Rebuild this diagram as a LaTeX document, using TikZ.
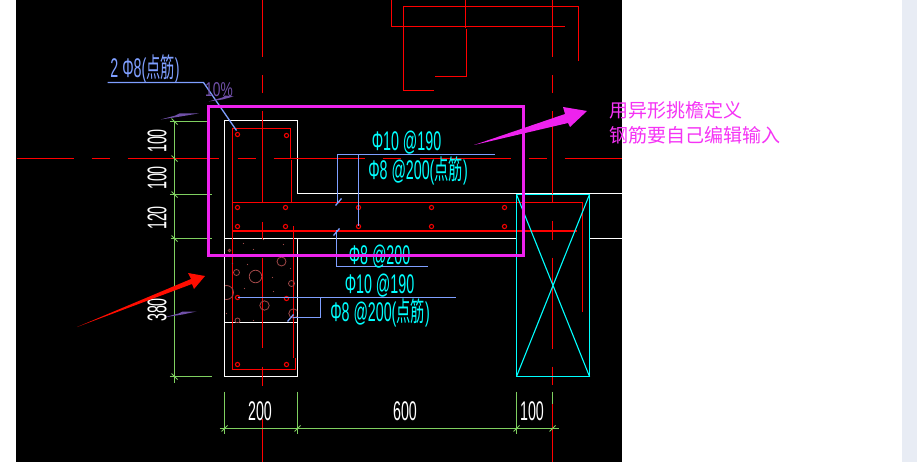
\documentclass[tikz,border=0pt]{standalone}
\usepackage{fontspec}
\setmainfont{Liberation Sans}
\newfontfamily\cjk{Noto Sans CJK SC}
\definecolor{mag}{HTML}{EE22EE}
\definecolor{notec}{HTML}{F533F5}
\definecolor{rd}{HTML}{FF0000}
\definecolor{grn}{HTML}{7FD060}
\definecolor{blu}{HTML}{7F9FFF}
\definecolor{cy}{HTML}{00FFFF}
\definecolor{pur}{HTML}{7050A8}
\definecolor{brn}{HTML}{A04848}
\definecolor{strip}{HTML}{E8ECF4}
\newcommand{\cadtxt}[1]{\scalebox{0.57}[1.08]{\fontsize{25}{25}\selectfont #1}}
\tikzset{
  x=1pt,y=-1pt,
  rl/.style={rd,line width=1.2pt},
  rf/.style={rd,line width=1pt},
  wl/.style={white,line width=1pt},
  gl/.style={grn,line width=1.3pt},
  bl/.style={blu,line width=1.3pt},
  cl/.style={cy,line width=1.4pt},
  rbar/.style={rd,line width=1pt},
  hatch/.style={brn,line width=.8pt},
  wtxt/.style={white,inner sep=0pt},
  ctxt/.style={cy,inner sep=0pt},
  btxt/.style={blu,inner sep=0pt},
  notetxt/.style={notec,inner sep=0pt,anchor=west,font=\cjk\fontsize{19}{19}\selectfont},
}
\begin{document}
\begin{tikzpicture}
\useasboundingbox (0,0) rectangle (917,462);
\fill[white] (0,0) rectangle (917,462);
\fill[black] (16,0) rectangle (622,462);
\fill[strip] (902,0) rectangle (917,462);
% concrete outlines
\draw[wl] (224,238) -- (224,121) -- (297,121) -- (297,194) -- (622,194);
\draw[wl] (224,238) -- (516,238);
\draw[wl] (589,238) -- (622,238);
\draw[wl] (224,238) -- (224,376) -- (297,376) -- (297,238);
\draw[wl] (224,322) -- (297,322);
% rebar outlines
\draw[rf] (466,29) -- (466,77) -- (435,77);
\draw[rf] (290,158) -- (290,129) -- (232,129) -- (232,369) -- (295,369) -- (295,358);
\draw[rf] (293,358) -- (293,226);
\draw[rf] (291,160) -- (291,203);
\draw[rf] (232,203) -- (582,203) -- (582,312);
\draw[rf] (232,231) -- (577,231);
\begin{scope}[shift={(.5,.5)}]
% axes
\foreach \a/\b in {16/73,91/109,127/218,237/255,273/364,382/400,419/510,528/546,564/621.5}
  \draw[rl] (\a,158) -- (\b,158);
\foreach \a/\b in {0/57,75/93,111/203,222/238,257/347,366/385,418/462}
  \draw[rl] (262,\a) -- (262,\b);
\foreach \a/\b in {0/57,75/93,111/202,221/239,257/348,366/384,403/462}
  \draw[rl] (552,\a) -- (552,\b);
% top right
\draw[rl] (391,0) -- (391,26) -- (564,26);
\draw[rl] (433,90) -- (403,90) -- (403,6) -- (578,6) -- (578,61);
\draw[rl] (465,0) -- (465,28);
% hatch
\begin{scope}
\clip (224.5,238.5) rectangle (296.5,321.5);
\foreach \x/\y/\r in {281/261/4.5,236/272/3,255/276/6.3,291/283/3,226/292/7,264/305/4.7,293/313/4.7,237/320/2.5,229/250/1.2}
  \draw[hatch] (\x,\y) circle[radius=\r];
\foreach \x/\y in {243/243,253/249,283/244,247/264,232/263,272/277,290/268,244/288,273/291,226/313,253/320,263/239}
  \fill[brn] (\x,\y) circle[radius=.6];
\end{scope}
\foreach \x/\y in {237/134,286/135,237/207,285/207,237/226,285/226,358/207,431/207,504/207,358/226,431/226,504/226,237/297,286/298,237/364,286/364}
  \draw[rbar] (\x,\y) circle[radius=2.1];
% cyan box
\draw[cl] (516,194) rectangle (589,376);
\draw[cl,line width=1.1pt] (516,194) -- (589,376) (589,194) -- (516,376);
% green dims
\draw[gl] (174,121) -- (174,382);
\draw[gl] (169,121) -- (208,121);
\draw[gl] (169,194) -- (211,194);
\draw[gl] (170,238) -- (211,238);
\draw[gl] (169,376) -- (211,376);
\draw[gl] (219,428) -- (558,428);
\foreach \x in {224,297,516} \draw[gl] (\x,391) -- (\x,433);
\draw[gl] (552,391) -- (552,403);
\foreach \y in {121,158,194,238,376} \draw[gl,line width=.8pt] (171,\y-3) -- (177,\y+3);
\foreach \x in {224,297,516,552} \draw[gl,line width=.8pt] (\x-3,431) -- (\x+3,425);
% leaders
\draw[bl] (107,82) -- (203,82) -- (236,130);
\draw[bl] (494,154) -- (337,154) -- (337,203);
\draw[bl] (335,205) -- (341,198);
\draw[bl] (358,154) -- (358,226);
\draw[bl] (333,235) -- (339,228);
\draw[bl] (336,230) -- (336,266) -- (427,266);
\draw[bl] (237,297) -- (455,297);
\draw[bl] (320,297) -- (320,317) -- (292,317);
\draw[bl] (287,321) -- (293,314);
% purple marks
\fill[pur] (208,101) -- (222,97) -- (225,95) -- (233,96) -- (222,99) -- cycle;
\fill[pur] (160,119) -- (175,115) -- (179,113) -- (198,113) -- (180,116) -- cycle;
\fill[pur] (163,317) -- (178,313) -- (182,311) -- (196,311) -- (182,314) -- cycle;
\end{scope}
% texts
\node[pur,inner sep=0pt] (pct) at (219,90) {\scalebox{.55}[.8]{\fontsize{25}{25}\selectfont 10\%}};
\node[btxt] (t2) at (145,68.5) {\cadtxt{2 Φ8(\cjk 点筋\rmfamily)}};
\node[ctxt] (t3) at (406.5,142.5) {\cadtxt{Φ10 @190}};
\node[ctxt] (t4) at (418,171) {\cadtxt{Φ8 @200(\cjk 点筋\rmfamily)}};
\node[ctxt] (t5) at (379.5,256.5) {\cadtxt{Φ8 @200}};
\node[ctxt] (t6) at (379.5,286) {\cadtxt{Φ10 @190}};
\node[ctxt] (t7) at (380,313) {\cadtxt{Φ8 @200(\cjk 点筋\rmfamily)}};
\node[wtxt,rotate=90] (d1) at (157,141) {\cadtxt{100}};
\node[wtxt,rotate=90] (d2) at (157,178) {\cadtxt{100}};
\node[wtxt,rotate=90] (d3) at (157,218) {\cadtxt{120}};
\node[wtxt,rotate=90] (d4) at (157,310) {\cadtxt{380}};
\node[wtxt] (d5) at (260,411) {\cadtxt{200}};
\node[wtxt] (d6) at (405,411) {\cadtxt{600}};
\node[wtxt] (d7) at (532,411) {\cadtxt{100}};
% magenta
\draw[mag,line width=3pt] (208.7,106.5) rectangle (523.5,255.5);
\fill[mag] (474,145) -- (565,114) -- (563,107) -- (587,111) -- (570,127) -- (568,123) -- cycle;
\fill[rd!90!orange] (77,327) -- (191,279) -- (188,273) -- (205,276) -- (194,289) -- (192,284) -- cycle;
\node[notetxt] (n1) at (609,110) {用异形挑檐定义};
\node[notetxt] (n2) at (609,135) {钢筋要自己编辑输入};
\end{tikzpicture}
\end{document}
